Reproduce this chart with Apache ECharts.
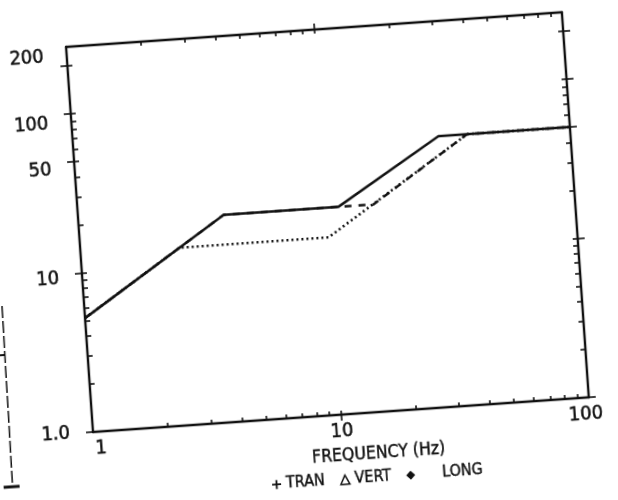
<!DOCTYPE html>
<html>
<head>
<meta charset="utf-8">
<script src="https://cdn.jsdelivr.net/npm/echarts@6/dist/echarts.min.js"></script>
<style>
html, body { margin: 0; padding: 0; background: #fff; overflow: hidden; }
#wrap { position: relative; width: 618px; height: 500px; overflow: hidden; background: #fff; }
#chart { position: absolute; left: 0; top: 0; width: 640px; height: 540px;
         transform: rotate(-4deg); transform-origin: 93px 432px; }
</style>
</head>
<body>
<div id="wrap"><div id="chart"></div></div>
<script>
// Breakpoints of each spectrum: frequency (Hz) and level
const freqTran = [1, 3.85, 11.2, 29.5, 100];
const levelTran = [5.2, 20, 20, 50, 50];
const freqVert = [1, 2.5, 10, 38.5, 100];
const levelVert = [5.2, 13, 13, 50, 50];
const freqLong = [1, 3.85, 15.5, 38.5, 100];
const levelLong = [5.2, 20, 20, 50, 50];

// Axis ranges, labelled ticks and minor (log) ticks
const freqRange = [1, 100];
const levelRange = [1, 263];
const freqTickValues = [1, 10, 100];
const freqTickLabels = ['1', '10', '100'];
const levelTickValues = [1, 10, 50, 100, 200];
const levelTickLabels = ['1.0', '10', '50', '100', '200'];
const freqMinorValues = [2, 3, 4, 5, 6, 7, 8, 9, 10, 20, 30, 40, 50, 60, 70, 80, 90];
const levelMinorValues = [2, 3, 4, 5, 6, 7, 8, 9, 10, 20, 30, 40, 50, 60, 70, 80, 90, 100, 200];
const freqCrossTicks = [10];
const levelCrossTicks = [1, 10, 50, 100, 200];

// Small label nudges (px): vertical for level labels, horizontal for frequency labels
const levelLabelNudge = [0, 4, 7, 9, -10];
const freqLabelNudge = [7, 0, -4];

const lg = Math.log10;
const ink = '#111';
const font = '"Liberation Sans Narrow", "DejaVu Sans Condensed", "Liberation Sans", sans-serif';

function pairs(fs, ls) { return fs.map((f, i) => [lg(f), lg(ls[i])]); }
function indexOfTick(values, v) { return values.findIndex(t => Math.abs(lg(t) - v) < 1e-6); }

const levelRich = {};
levelLabelNudge.forEach((n, i) => {
  levelRich['l' + i] = { fontFamily: font, fontSize: 20, color: ink, textBorderColor: ink, textBorderWidth: 0.5,
                         padding: n >= 0 ? [2 * n, 0, 0, 0] : [0, 0, -2 * n, 0] };
});
const freqRich = {};
freqLabelNudge.forEach((n, i) => {
  freqRich['f' + i] = { fontFamily: font, fontSize: 20, color: ink, textBorderColor: ink, textBorderWidth: 0.5,
                        padding: n >= 0 ? [0, 0, 0, 2 * n] : [0, -2 * n, 0, 0] };
});

const lineStyle = { color: ink, width: 2.4 };
const tickStyle = { color: ink, width: 1.6 };

function axis(range, pos, opts) {
  return Object.assign({
    type: 'value', position: pos,
    min: lg(range[0]), max: lg(range[1]),
    splitLine: { show: false },
    axisLine: { show: false, onZero: false },
    axisTick: { show: false },
    axisLabel: { show: false }
  }, opts);
}

const xAxes = [
  axis(freqRange, 'bottom', {
    axisLine: { show: true, onZero: false, lineStyle },
    axisTick: { show: true, inside: false, length: 6, customValues: freqCrossTicks.map(lg), lineStyle: tickStyle },
    axisLabel: {
      show: true, customValues: freqTickValues.map(lg), margin: 7, rich: freqRich,
      formatter: v => { const i = indexOfTick(freqTickValues, v); return i >= 0 ? '{f' + i + '|' + freqTickLabels[i] + '}' : ''; }
    },
    name: 'FREQUENCY (Hz)', nameLocation: 'middle', nameGap: 30,
    nameTextStyle: { color: ink, fontFamily: font, fontSize: 17.5, textBorderColor: ink, textBorderWidth: 0.4,
                     padding: [0, 0, 0, 70] }
  }),
  axis(freqRange, 'bottom', {
    axisTick: { show: true, inside: true, length: 4, customValues: freqMinorValues.map(lg), lineStyle: tickStyle }
  }),
  axis(freqRange, 'top', {
    axisLine: { show: true, onZero: false, lineStyle },
    axisTick: { show: true, inside: true, length: 4, customValues: freqMinorValues.map(lg), lineStyle: tickStyle }
  }),
  axis(freqRange, 'top', {
    axisTick: { show: true, inside: false, length: 6, customValues: freqCrossTicks.map(lg), lineStyle: tickStyle }
  })
];

const yAxes = [
  axis(levelRange, 'left', {
    axisLine: { show: true, onZero: false, lineStyle },
    axisTick: { show: true, inside: false, length: 7, customValues: levelCrossTicks.map(lg), lineStyle: tickStyle },
    axisLabel: {
      show: true, customValues: levelTickValues.map(lg), margin: 23, rich: levelRich,
      formatter: v => { const i = indexOfTick(levelTickValues, v); return i >= 0 ? '{l' + i + '|' + levelTickLabels[i] + '}' : ''; }
    }
  }),
  axis(levelRange, 'left', {
    axisTick: { show: true, inside: true, length: 5, customValues: levelMinorValues.map(lg), lineStyle: tickStyle }
  }),
  axis(levelRange, 'right', {
    axisLine: { show: true, onZero: false, lineStyle },
    axisTick: { show: true, inside: true, length: 5, customValues: levelMinorValues.map(lg), lineStyle: tickStyle }
  }),
  axis(levelRange, 'right', {
    axisTick: { show: true, inside: false, length: 7, customValues: levelCrossTicks.map(lg), lineStyle: tickStyle }
  })
];

const legendText = { color: ink, fontFamily: font, fontSize: 16, textBorderColor: ink, textBorderWidth: 0.4 };

const option = {
  animation: false,
  backgroundColor: '#fff',
  grid: { left: 93, top: 46, width: 497, height: 386, containLabel: false },
  xAxis: xAxes,
  yAxis: yAxes,
  legend: {
    left: 263, top: 484, itemWidth: 9, itemHeight: 9, itemGap: 15,
    textStyle: legendText,
    selectedMode: false,
    data: [
      { name: 'TRAN', icon: 'path://M4 0h2v4h4v2h-4v4h-2v-4h-4v-2h4z' },
      { name: 'VERT', icon: 'triangle', itemStyle: { color: '#fff', borderColor: ink, borderWidth: 1.5 } },
      { name: 'LONG', icon: 'diamond', textStyle: Object.assign({}, legendText, { padding: [0, 0, 0, 22] }) }
    ]
  },
  series: [
    { name: 'VERT', type: 'line', color: ink, data: pairs(freqVert, levelVert), symbol: 'none', z: 1,
      lineStyle: { color: ink, width: 2.6, type: [2, 3] } },
    { name: 'LONG', type: 'line', color: ink, data: pairs(freqLong, levelLong), symbol: 'none', z: 2,
      lineStyle: { color: ink, width: 2.4, type: [7, 7] } },
    { name: 'TRAN', type: 'line', color: ink, data: pairs(freqTran, levelTran), symbol: 'none', z: 3,
      lineStyle: { color: ink, width: 2.6 } }
  ],
  // partial frame of the neighbouring plot at the left margin
  graphic: [
    { type: 'line', shape: { x1: 11, y1: 300, x2: 9, y2: 481 }, style: { stroke: ink, lineWidth: 1.5, lineDash: [12, 3] } },
    { type: 'line', shape: { x1: 0, y1: 349, x2: 11, y2: 349 }, style: { stroke: ink, lineWidth: 2 } },
    { type: 'line', shape: { x1: 0, y1: 481, x2: 16, y2: 481 }, style: { stroke: ink, lineWidth: 3 } }
  ]
};

const chart = echarts.init(document.getElementById('chart'), null, { renderer: 'canvas' });
chart.setOption(option);
</script>
</body>
</html>
